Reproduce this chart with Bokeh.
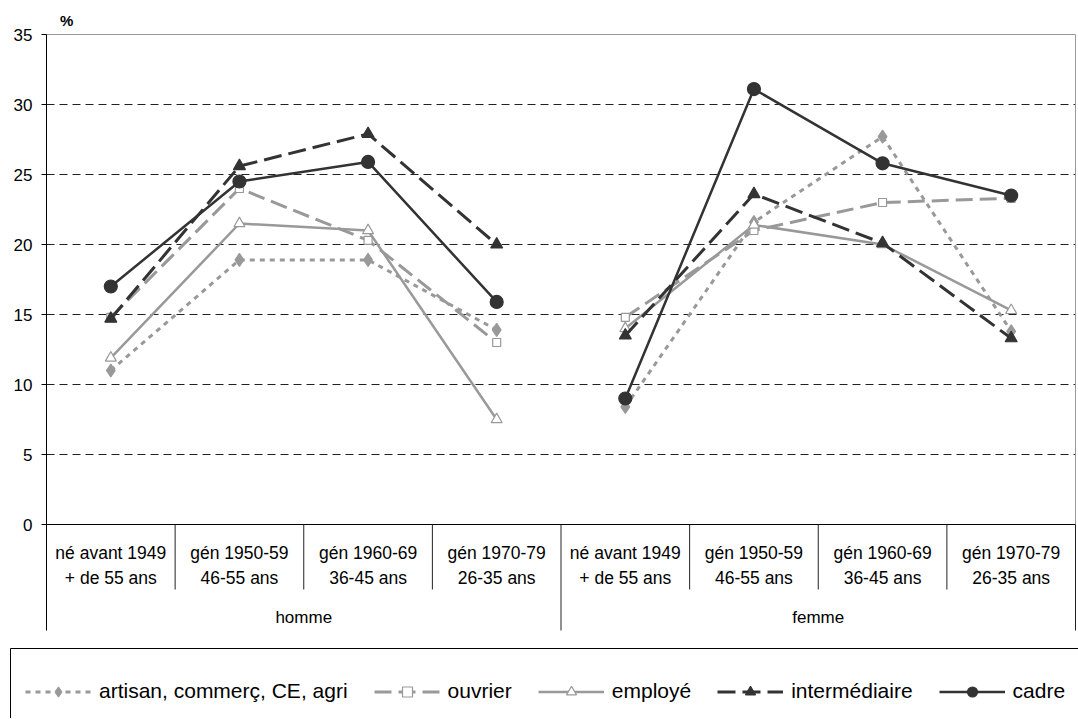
import numpy as np
from bokeh.plotting import figure
from bokeh.models import Range1d, FixedTicker, LinearAxis, Label, Legend, LegendItem
from bokeh.core.properties import value
from bokeh.embed import file_html
from bokeh.resources import INLINE

# ---------------- data ----------------
sexes = ["homme", "femme"]
gen_line1 = ["né avant 1949", "gén 1950-59", "gén 1960-69", "gén 1970-79"]
gen_line2 = ["+ de 55 ans", "46-55 ans", "36-45 ans", "26-35 ans"]

series_names = ["artisan, commerç, CE, agri", "ouvrier", "employé", "intermédiaire", "cadre"]
artisan_homme = [11.0, 18.9, 18.9, 13.9]
artisan_femme = [8.4, 21.6, 27.7, 13.8]
ouvrier_homme = [14.8, 24.0, 20.3, 13.0]
ouvrier_femme = [14.8, 21.0, 23.0, 23.3]
employe_homme = [11.9, 21.5, 21.0, 7.5]
employe_femme = [14.0, 21.4, 20.0, 15.3]
inter_homme = [14.7, 25.6, 27.9, 20.0]
inter_femme = [13.5, 23.6, 20.1, 13.3]
cadre_homme = [17.0, 24.5, 25.9, 15.9]
cadre_femme = [9.0, 31.1, 25.8, 23.5]

y_ticks = [0, 5, 10, 15, 20, 25, 30, 35]
grid_ticks = [5, 10, 15, 20, 25, 30]
y_max = 35
unit_label = "%"

# ---------------- styles ----------------
GREY = "#999999"
DARK = "#333333"
FONT = "Liberation Sans"
styles = [
    dict(color=GREY, width=3, dash="5 5", marker="diamond", size=13, fill=GREY),
    dict(color=GREY, width=3, dash="17 7", marker="square", size=8, fill="white"),
    dict(color=GREY, width=2.5, dash="solid", marker="triangle", size=11, fill="white"),
    dict(color=DARK, width=3, dash="18 7", marker="triangle", size=12, fill=DARK),
    dict(color=DARK, width=2.5, dash="solid", marker="circle", size=13, fill=DARK),
]
values_h = [artisan_homme, ouvrier_homme, employe_homme, inter_homme, cadre_homme]
values_f = [artisan_femme, ouvrier_femme, employe_femme, inter_femme, cadre_femme]

# ---------------- layout metrics (pixels) ----------------
W, H = 1078, 718
left_px, right_px = 46, 3        # plot area from x=46 to x=1075
top_px = 34                      # y of the 35 line
PX = 14.0                        # pixels per percentage point
zero_px = top_px + y_max * PX    # y of the 0 line (524)
table_px = 106                   # category table height
inner_div_px = 65
n = len(gen_line1)
CW = (W - left_px - right_px) / (2 * n)   # pixels per category

x_h = np.arange(n) + 0.5
x_f = np.arange(n) + 0.5 + n

p = figure(width=W, height=H, output_backend="svg", toolbar_location=None,
           x_range=Range1d(-left_px / CW, 2 * n + right_px / CW),
           y_range=Range1d(-(H - zero_px) / PX, y_max + top_px / PX),
           x_axis_type=None, y_axis_type=None,
           min_border_left=0, min_border_right=0, min_border_top=0, min_border_bottom=0)
p.outline_line_color = None
p.background_fill_color = "white"
p.xgrid.visible = False
p.ygrid.visible = False

# y axis at x = 0
ax = LinearAxis(fixed_location=0, ticker=FixedTicker(ticks=y_ticks),
                bounds=(-table_px / PX, y_max))
ax.axis_line_color = "black"
ax.major_tick_line_color = "black"
ax.major_tick_out = 5
ax.major_tick_in = 0
ax.minor_tick_line_color = None
ax.major_label_text_font = FONT
ax.major_label_text_font_size = "17px"
ax.major_label_text_color = "black"
ax.major_label_standoff = 9
p.add_layout(ax, "left")

# dashed horizontal gridlines over the plot area
p.segment(x0=0, y0=grid_ticks, x1=2 * n, y1=grid_ticks, line_color="#222222",
          line_dash="8 5", line_width=1)

# plot-area border: grey top & right, black bottom
p.segment(x0=0, y0=y_max, x1=2 * n, y1=y_max, line_color=GREY, line_width=1)
p.segment(x0=2 * n, y0=0, x1=2 * n, y1=y_max, line_color=GREY, line_width=1)
p.segment(x0=0, y0=0, x1=2 * n, y1=0, line_color="black", line_width=1.2)

# category table dividers
inner = [i for i in range(1, 2 * n) if i != n]
outer = [n, 2 * n]
p.segment(x0=inner, y0=0, x1=inner, y1=-inner_div_px / PX, line_color="#222222", line_width=1)
p.segment(x0=outer, y0=0, x1=outer, y1=-table_px / PX, line_color="#222222", line_width=1)

# category labels
xs_all = list(x_h) + list(x_f)
p.text(x=xs_all, y=-28 / PX, text=gen_line1 * 2, text_align="center",
       text_baseline="middle", text_font=value(FONT), text_font_size="17.5px", text_color="black")
p.text(x=xs_all, y=-53 / PX, text=gen_line2 * 2, text_align="center",
       text_baseline="middle", text_font=value(FONT), text_font_size="17.5px", text_color="black")
p.text(x=[float(np.mean(x_h)), float(np.mean(x_f))], y=-93 / PX, text=sexes,
       text_align="center", text_baseline="middle", text_font=value(FONT),
       text_font_size="17px", text_color="black")

# "%" unit label
p.add_layout(Label(x=0.157, y=y_max, y_offset=6, text=unit_label, text_align="center",
                   text_baseline="bottom", text_font=FONT, text_font_size="15px",
                   text_font_style="bold", text_color="black"))

# legend frame (open to the right and bottom, like the reference)
box_left_px, box_top_px = 10, 648
p.quad(left=(box_left_px - left_px) / CW, right=2 * n + 1,
       top=(zero_px - box_top_px) / PX, bottom=-(H - zero_px) / PX - 1,
       fill_color="white", line_color="black", line_width=1)

# series
items = []
for name, st, vh, vf in zip(series_names, styles, values_h, values_f):
    lines = [p.line(x=xs, y=vs, line_color=st["color"], line_width=st["width"],
                    line_dash=st["dash"]) for xs, vs in ((x_h, vh), (x_f, vf))]
    marks = [p.scatter(x=xs, y=vs, marker=st["marker"], size=st["size"], fill_color=st["fill"],
                       line_color=st["color"], line_width=1.2) for xs, vs in ((x_h, vh), (x_f, vf))]
    items.append(LegendItem(label=name, renderers=[lines[0], marks[0]]))

ITEM_H = 25
items_center_px = 691
first_glyph_px = 25
legend = Legend(items=items, orientation="horizontal",
                location=(first_glyph_px, H - (items_center_px - ITEM_H / 2) - ITEM_H),
                glyph_width=66, glyph_height=ITEM_H, label_height=ITEM_H, label_standoff=8,
                spacing=26, padding=0, margin=0,
                border_line_color=None, background_fill_alpha=0.0,
                label_text_font=FONT, label_text_font_size="21px", label_text_color="black")
p.add_layout(legend)

open("out.html", "w").write(file_html(p, INLINE))
